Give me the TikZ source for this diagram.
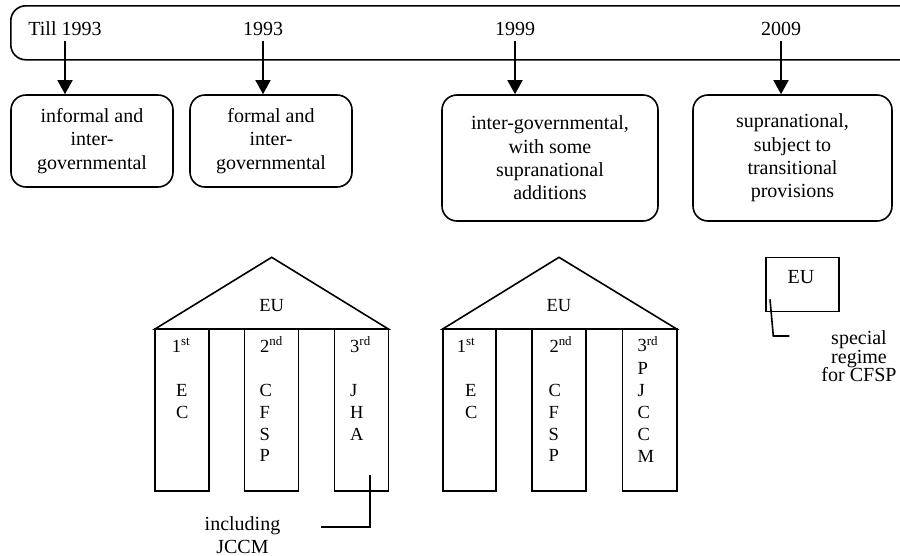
\documentclass[tikz,border=0pt]{standalone}
\usepackage{fontspec}
\setmainfont{Liberation Serif}
\usetikzlibrary{arrows.meta}
\begin{document}
\begin{tikzpicture}[x=1pt,y=-1pt,
  lw/.style={line width=1.6pt},
  txt/.style={font=\fontsize{20}{23.3}\selectfont, inner sep=0pt, align=center},
  pil/.style={font=\fontsize{18.5}{21.8}\selectfont, inner sep=0pt, anchor=base west},
  rbox/.style={draw, lw, rounded corners=15pt, align=center, font=\fontsize{20}{23.3}\selectfont, inner sep=0pt},
  arr/.style={lw, -{Triangle[length=14pt,width=15pt]}}
]
\useasboundingbox (0,0) rectangle (900,555);

% timeline band (runs off the right edge)
\node[draw, lw, rounded corners=15pt, minimum width=905pt, minimum height=54pt, anchor=north west, inner sep=0pt] (tl) at (10,5) {};

% years
\node[txt, anchor=base] (y1) at (65,35) {Till 1993};
\node[txt, anchor=base] (y2) at (263,35) {1993};
\node[txt, anchor=base] (y3) at (515,35) {1999};
\node[txt, anchor=base] (y4) at (781,35) {2009};

% stage boxes
\node[rbox, minimum width=162pt, minimum height=92pt] (b1) at (92,141) {informal and\\inter-\\governmental};
\node[rbox, minimum width=162pt, minimum height=92pt] (b2) at (271,141) {formal and\\inter-\\governmental};
\node[rbox, minimum width=216pt, minimum height=126pt] (b3) at (550,158) {inter-governmental,\\with some\\supranational\\additions};
\node[rbox, minimum width=199pt, minimum height=126pt] (b4) at (792.5,158) {supranational,\\subject to\\transitional\\provisions};

% arrows
\draw[arr] ([yshift=-6pt]y1.south) -- (y1.south |- b1.north);
\draw[arr] ([yshift=-6pt]y2.south) -- (y2.south |- b2.north);
\draw[arr] ([yshift=-6pt]y3.south) -- (y3.south |- b3.north);
\draw[arr] ([yshift=-6pt]y4.south) -- (y4.south |- b4.north);

% temple 1
\draw[lw, line join=miter] (155,329) -- (271.7,257.3) -- (388.3,329) -- cycle;
\draw[lw] (155,329) rectangle (209,491);
\draw[lw] (244.3,329) rectangle (298.3,491);
\draw[lw] (334.3,329) rectangle (388.3,491);
\node[pil, anchor=base] (t1eu) at (271.7,311.7) {EU};
\node[pil] (t1o1) at (171.7,352) {1\textsuperscript{st}};
\node[pil] (t1o2) at (260,352) {2\textsuperscript{nd}};
\node[pil] (t1o3) at (350,352) {3\textsuperscript{rd}};
\foreach \l [count=\i] in {E,C} \node[pil] (t1a\i) at (176,{396.7+21.7*(\i-1)}) {\l};
\foreach \l [count=\i] in {C,F,S,P} \node[pil] (t1b\i) at (259.3,{396.7+21.7*(\i-1)}) {\l};
\foreach \l [count=\i] in {J,H,A} \node[pil] (t1c\i) at (350,{396.7+21.7*(\i-1)}) {\l};

% temple 2
\draw[lw, line join=miter] (442.7,329) -- (559,257.3) -- (676.7,329) -- cycle;
\draw[lw] (442.7,329) rectangle (496,491);
\draw[lw] (531.7,329) rectangle (586,491);
\draw[lw] (622.3,329) rectangle (676.7,491);
\node[pil, anchor=base] (t2eu) at (559,311.7) {EU};
\node[pil] (t2o1) at (456.7,352) {1\textsuperscript{st}};
\node[pil] (t2o2) at (549.3,352) {2\textsuperscript{nd}};
\node[pil] (t2o3) at (637.3,351.7) {3\textsuperscript{rd}};
\foreach \l [count=\i] in {E,C} \node[pil] (t2a\i) at (465,{396.7+21.7*(\i-1)}) {\l};
\foreach \l [count=\i] in {C,F,S,P} \node[pil] (t2b\i) at (548.3,{396.7+21.7*(\i-1)}) {\l};
\foreach \l [count=\i] in {P,J,C,C,M} \node[pil] (t2c\i) at (637.3,{374.5+22*(\i-1)}) {\l};

% callout: including JCCM
\node[txt] (inc) at (242.5,535) {including\\JCCM};
\coordinate (c1a) at (370,475);
\coordinate (c1b) at (320.7,526.7);
\draw[lw] (c1a) |- (c1b);

% 2009 EU
\node[draw, lw, minimum width=73pt, minimum height=54pt, anchor=north west, inner sep=0pt] (eub) at (765,256.7) {};
\node[txt, anchor=base] (eut) at (801,283.3) {EU};
\node[font=\fontsize{20}{18.7}\selectfont, inner sep=0pt, align=center] (spec) at (859,356.3) {special\\regime\\for CFSP};
\coordinate (c2a) at (770,299.3);
\coordinate (c2b) at (773.3,336);
\coordinate (c2c) at (789.3,336);
\draw[lw] (c2a) -- (c2b) -- (c2c);
\end{tikzpicture}
\end{document}
